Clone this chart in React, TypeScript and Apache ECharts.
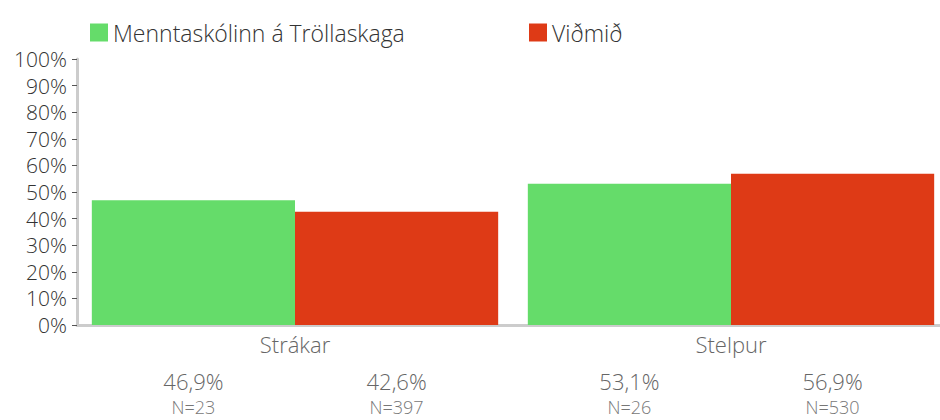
import React, { useEffect, useRef } from "react";
import * as echarts from "echarts";

const categories = ["Strákar", "Stelpur"];
const seriesNames = ["Menntaskólinn á Tröllaskaga", "Viðmið"];
const schoolValues = [46.9, 53.1];
const benchmarkValues = [42.6, 56.9];
const schoolN = [23, 26];
const benchmarkN = [397, 530];
const colors = ["#65dc6a", "#de3a16"];

const FONT = "'Open Sans', Lato, sans-serif";

function fmt(v: number) {
  return v.toFixed(1).replace(".", ",") + "%";
}

export default function App() {
  const ref = useRef<HTMLDivElement>(null);
  useEffect(() => {
    document.body.style.margin = "0";
    const chart = echarts.init(ref.current!, null, { renderer: "svg" });
    const makeLabel = (ns: number[]) => ({
      show: true,
      position: ["50%", "100%"],
      offset: [0, 43],
      align: "center",
      verticalAlign: "top",
      formatter: (p: any) => `{v|${fmt(p.value)}}\n{n|N=${ns[p.dataIndex]}}`,
      rich: {
        v: { fontSize: 22, lineHeight: 26, color: "#666", fontFamily: FONT, fontWeight: 300, align: "center" },
        n: { fontSize: 18, lineHeight: 26, color: "#777", fontFamily: FONT, fontWeight: 300, align: "center" },
      },
    });
    const legendText = { fontSize: 23, color: "#333", fontFamily: FONT, fontWeight: 300 };
    chart.setOption({
      animation: false,
      textStyle: { fontFamily: FONT },
      legend: [
        {
          data: [seriesNames[0]],
          left: 85,
          top: 16,
          icon: "rect",
          itemWidth: 18,
          itemHeight: 18,
          textStyle: legendText,
        },
        {
          data: [seriesNames[1]],
          left: 524,
          top: 16,
          icon: "rect",
          itemWidth: 18,
          itemHeight: 18,
          textStyle: legendText,
        },
      ],
      grid: {
        left: 77,
        width: 872,
        top: 59,
        height: 266,
        containLabel: false,
        outerBoundsMode: "none",
      },
      xAxis: {
        type: "category",
        data: categories,
        axisLine: { show: true, lineStyle: { color: "#cccccc", width: 3 } },
        axisTick: { show: false },
        axisLabel: { fontSize: 22, color: "#666", margin: 8, fontFamily: FONT, fontWeight: 300 },
      },
      yAxis: {
        type: "value",
        min: 0,
        max: 100,
        interval: 10,
        axisLine: { show: true, lineStyle: { color: "#cccccc", width: 3 } },
        axisTick: { show: true, length: 5, lineStyle: { color: "#555", width: 1 } },
        splitLine: { show: false },
        axisLabel: {
          formatter: "{value}%",
          fontSize: 21,
          color: "#333",
          margin: 10,
          fontFamily: FONT,
          fontWeight: 300,
        },
      },
      series: [
        {
          name: seriesNames[0],
          type: "bar",
          data: schoolValues,
          itemStyle: { color: colors[0] },
          barGap: "0%",
          barCategoryGap: "6.8%",
          label: makeLabel(schoolN),
        },
        {
          name: seriesNames[1],
          type: "bar",
          data: benchmarkValues,
          itemStyle: { color: colors[1] },
          barGap: "0%",
          barCategoryGap: "6.8%",
          label: makeLabel(benchmarkN),
        },
      ],
    });
    return () => chart.dispose();
  }, []);
  return <div ref={ref} style={{ width: 940, height: 420 }} />;
}
